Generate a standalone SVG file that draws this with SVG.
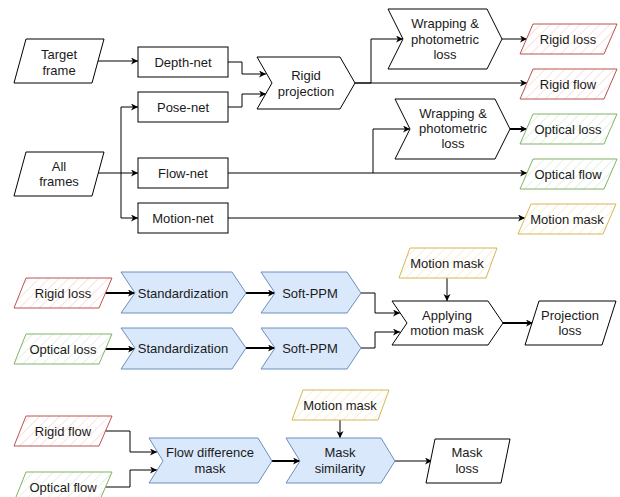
<svg xmlns="http://www.w3.org/2000/svg" width="620" height="497" viewBox="0 0 620 497">
<style>
  text { font-family: "Liberation Sans", Arial, sans-serif; font-size: 13px; fill: #1a1a1a; text-anchor: middle; dominant-baseline: central; }
  .plain { fill: #ffffff; stroke: #000000; stroke-width: 1; }
  .blue { fill: #dae8fc; stroke: #6c8ebf; stroke-width: 1; }
  .red { fill: url(#hatchR); stroke: #b85450; stroke-width: 1; }
  .green { fill: url(#hatchG); stroke: #82b366; stroke-width: 1; }
  .yellow { fill: url(#hatchY); stroke: #d6b656; stroke-width: 1; }
  .edge { fill: none; stroke: #000000; stroke-width: 1; marker-end: url(#arrow); }
  .thick { stroke-width: 2; }
</style>
<defs>
  <marker id="arrow" markerUnits="userSpaceOnUse" markerWidth="8" markerHeight="8" refX="7" refY="3.5" orient="auto">
    <path d="M0,0 L7,3.5 L0,7 L2,3.5 Z" fill="#000000"/>
  </marker>
  <pattern id="hatchR" patternUnits="userSpaceOnUse" width="7" height="7" patternTransform="rotate(45)">
    <rect width="7" height="7" fill="#ffffff"/>
    <line x1="0" y1="0" x2="0" y2="7" stroke="#f5cfcd" stroke-width="1.2"/>
  </pattern>
  <pattern id="hatchG" patternUnits="userSpaceOnUse" width="7" height="7" patternTransform="rotate(45)">
    <rect width="7" height="7" fill="#ffffff"/>
    <line x1="0" y1="0" x2="0" y2="7" stroke="#d5e8d2" stroke-width="1.2"/>
  </pattern>
  <pattern id="hatchY" patternUnits="userSpaceOnUse" width="7" height="7" patternTransform="rotate(45)">
    <rect width="7" height="7" fill="#ffffff"/>
    <line x1="0" y1="0" x2="0" y2="7" stroke="#f6e7bd" stroke-width="1.2"/>
  </pattern>
</defs>
<rect width="620" height="497" fill="#ffffff"/>

<g id="connectors">
  <path class="edge" d="M98,61 H138"/>
  <path class="edge" d="M228,62 H242 V74 H266"/>
  <path class="edge" d="M228,107 H242 V94 H266"/>
  <path class="edge" d="M98,173 H138"/>
  <path class="edge" d="M121,173 V107 H138"/>
  <path class="edge" d="M121,173 V218 H138"/>
  <path class="edge" d="M355,83 H371 V39 H403"/>
  <path class="edge" d="M355,83 H527"/>
  <path class="edge" d="M502,39 H527"/>
  <path class="edge" d="M228,173 H527"/>
  <path class="edge" d="M373,173 V129 H410"/>
  <path class="edge thick" d="M510,129 H527"/>
  <path class="edge" d="M228,218 H525"/>
  <path class="edge thick" d="M105,293 H135"/>
  <path class="edge thick" d="M246,293 H275"/>
  <path class="edge thick" d="M105,349 H135"/>
  <path class="edge thick" d="M246,348 H275"/>
  <path class="edge" d="M361,293 H375 V313 H400"/>
  <path class="edge" d="M361,348 H375 V332 H400"/>
  <path class="edge" d="M447,278 V301"/>
  <path class="edge thick" d="M503,323 H533"/>
  <path class="edge" d="M105,431 H130 V452 H157"/>
  <path class="edge" d="M105,487 H130 V470 H157"/>
  <path class="edge thick" d="M272,461 H300"/>
  <path class="edge" d="M340,420 V438"/>
  <path class="edge" d="M395,461 H432"/>
</g>

<g id="target-frame">
  <polygon class="plain" points="26,39 104,39 92,83 14,83"/>
  <text x="59" y="54">Target</text>
  <text x="59" y="70">frame</text>
</g>
<g id="all-frames">
  <polygon class="plain" points="26,152 104,152 92,196 14,196"/>
  <text x="59" y="166">All</text>
  <text x="59" y="181">frames</text>
</g>
<g id="depth-net">
  <rect class="plain" x="138" y="47" width="90" height="30"/>
  <text x="183" y="62">Depth-net</text>
</g>
<g id="pose-net">
  <rect class="plain" x="138" y="92" width="90" height="30"/>
  <text x="183" y="107">Pose-net</text>
</g>
<g id="flow-net">
  <rect class="plain" x="138" y="158" width="90" height="30"/>
  <text x="183" y="173">Flow-net</text>
</g>
<g id="motion-net">
  <rect class="plain" x="138" y="203" width="90" height="30"/>
  <text x="183" y="218">Motion-net</text>
</g>
<g id="rigid-projection">
  <path class="plain" d="M257,57 H340 L355,83 L340,109 H257 L272,83 Z"/>
  <text x="306" y="75">Rigid</text>
  <text x="306" y="91">projection</text>
</g>
<g id="wrapping-rigid">
  <path class="plain" d="M388,9 H487 L502,39 L487,69 H388 L403,39 Z"/>
  <text x="445" y="23">Wrapping &amp;</text>
  <text x="445" y="39">photometric</text>
  <text x="445" y="54">loss</text>
</g>
<g id="wrapping-optical">
  <path class="plain" d="M395,99 H495 L510,129 L495,159 H395 L410,129 Z"/>
  <text x="453" y="113">Wrapping &amp;</text>
  <text x="453" y="128">photometric</text>
  <text x="453" y="143">loss</text>
</g>
<g id="rigid-loss-out">
  <polygon class="red" points="533,24 617,24 604,54 520,54"/>
  <text x="568" y="39">Rigid loss</text>
</g>
<g id="rigid-flow-out">
  <polygon class="red" points="533,69 617,69 604,99 520,99"/>
  <text x="568" y="84">Rigid flow</text>
</g>
<g id="optical-loss-out">
  <polygon class="green" points="533,114 617,114 604,144 520,144"/>
  <text x="568" y="129">Optical loss</text>
</g>
<g id="optical-flow-out">
  <polygon class="green" points="533,159 617,159 604,189 520,189"/>
  <text x="568" y="174">Optical flow</text>
</g>
<g id="motion-mask-out">
  <polygon class="yellow" points="531,204 616,204 603,234 518,234"/>
  <text x="567" y="219">Motion mask</text>
</g>

<g id="rigid-loss-in">
  <polygon class="red" points="26,278 112,278 99,308 14,308"/>
  <text x="63" y="293">Rigid loss</text>
</g>
<g id="optical-loss-in">
  <polygon class="green" points="26,334 112,334 99,364 14,364"/>
  <text x="63" y="349">Optical loss</text>
</g>
<g id="standardization-1">
  <path class="blue" d="M121,272 H232 L246,293 L232,313 H121 L135,293 Z"/>
  <text x="183" y="293">Standardization</text>
</g>
<g id="standardization-2">
  <path class="blue" d="M121,328 H232 L246,348 L232,369 H121 L135,348 Z"/>
  <text x="183" y="348">Standardization</text>
</g>
<g id="soft-ppm-1">
  <path class="blue" d="M261,272 H347 L361,293 L347,313 H261 L275,293 Z"/>
  <text x="310" y="293">Soft-PPM</text>
</g>
<g id="soft-ppm-2">
  <path class="blue" d="M261,328 H347 L361,348 L347,369 H261 L275,348 Z"/>
  <text x="310" y="348">Soft-PPM</text>
</g>
<g id="motion-mask-mid">
  <polygon class="yellow" points="410,248 497,248 486,278 399,278"/>
  <text x="447" y="263">Motion mask</text>
</g>
<g id="applying-motion-mask">
  <path class="plain" d="M392,301 H488 L503,323 L488,345 H392 L407,323 Z"/>
  <text x="447" y="315">Applying</text>
  <text x="447" y="330">motion mask</text>
</g>
<g id="projection-loss">
  <polygon class="plain" points="539,301 616,301 602,345 525,345"/>
  <text x="570" y="315">Projection</text>
  <text x="570" y="330">loss</text>
</g>

<g id="rigid-flow-in">
  <polygon class="red" points="26,416 112,416 99,446 14,446"/>
  <text x="63" y="431">Rigid flow</text>
</g>
<g id="optical-flow-in">
  <polygon class="green" points="26,472 112,472 99,502 14,502"/>
  <text x="63" y="487">Optical flow</text>
</g>
<g id="flow-difference-mask">
  <path class="blue" d="M149,438 H258 L272,461 L258,483 H149 L163,461 Z"/>
  <text x="210" y="452">Flow difference</text>
  <text x="210" y="468">mask</text>
</g>
<g id="motion-mask-bottom">
  <polygon class="yellow" points="303,390 389,390 378,420 292,420"/>
  <text x="340" y="405">Motion mask</text>
</g>
<g id="mask-similarity">
  <path class="blue" d="M286,438 H381 L395,461 L381,483 H286 L300,461 Z"/>
  <text x="340" y="452">Mask</text>
  <text x="340" y="468">similarity</text>
</g>
<g id="mask-loss">
  <polygon class="plain" points="435,439 510,439 501,483 426,483"/>
  <text x="467" y="452">Mask</text>
  <text x="467" y="468">loss</text>
</g>
</svg>
